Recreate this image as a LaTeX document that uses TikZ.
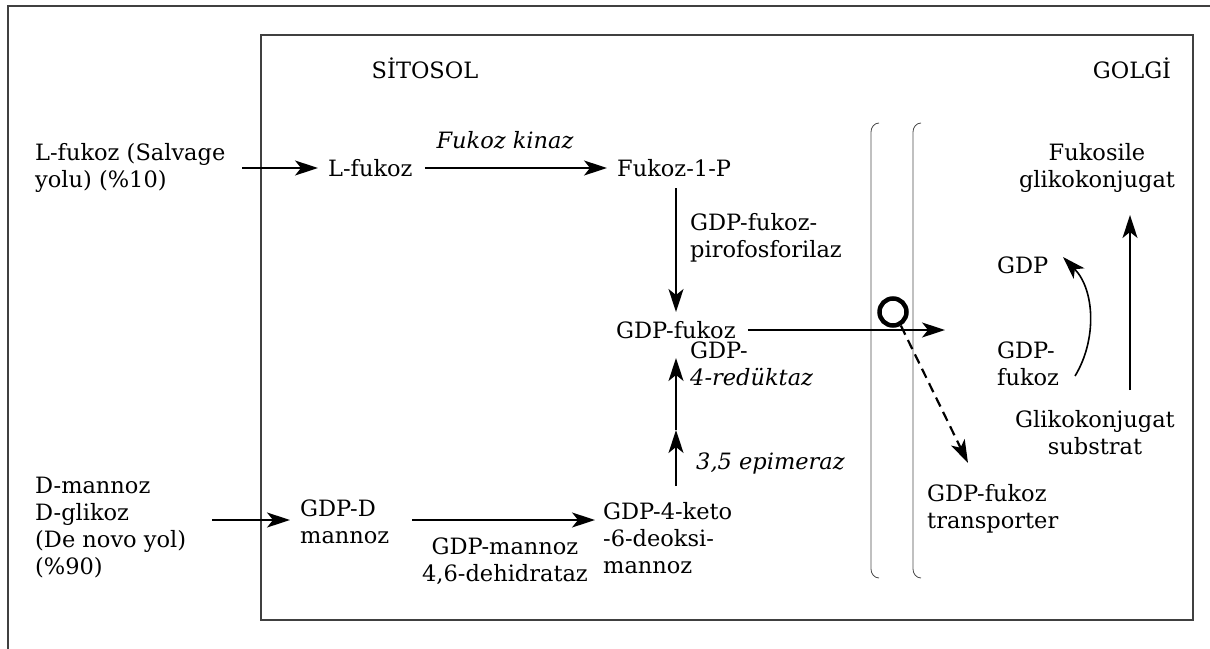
\documentclass[tikz,border=0pt]{standalone}
\usepackage{fontspec}
\setmainfont{DejaVu Serif}
\usetikzlibrary{arrows.meta}
\begin{document}
\begin{tikzpicture}[x=1pt,y=-1pt,
  txt/.style={inner sep=0pt, font=\fontsize{22.5}{27}\selectfont},
  lt/.style={txt, anchor=west, align=left},
  ct/.style={txt, align=center},
  tip/.style={-{Stealth[length=23pt,width=15pt,inset=6pt]}},
  arr/.style={line width=1.6pt, tip},
  mem/.style={line width=0.8pt, draw=black!70},
  frame/.style={line width=1.8pt, draw=black!75}]
\useasboundingbox (0,0) rectangle (1210,648);
\draw[frame] (8,6) rectangle (1230,670);
\draw[frame] (261,35) rectangle (1193,620);
% headings
\node[ct] (sit) at (425,68) {SİTOSOL};
\node[ct] (gol) at (1132,68) {GOLGİ};
% salvage
\node[lt] (salv) at (35,168) {L-fukoz (Salvage\\yolu) (\%10)};
\node[lt] (lf) at (328,168) {L-fukoz};
\node[lt] (f1p) at (617,168) {Fukoz-1-P};
\node[ct] (fk) at (505,140) {\itshape Fukoz kinaz};
\node[lt] (gf) at (616,330) {GDP-fukoz};
\node[lt] (pir) at (690,238) {GDP-fukoz-\\pirofosforilaz};
% de novo
\node[lt] (dn) at (35,528) {D-mannoz\\D-glikoz\\(De novo yol)\\(\%90)};
\node[lt] (gdm) at (300,522) {GDP-D\\mannoz};
\node[lt] (keto) at (603,538) {GDP-4-keto\\-6-deoksi-\\mannoz};
\node[ct] (deh) at (505,561) {GDP-mannoz\\4,6-dehidrataz};
\node[lt] (red) at (690,364) {GDP-\\\itshape 4-redüktaz};
\node[lt] (epi) at (696,463) {\itshape 3,5 epimeraz};
% golgi
\node[lt] (gdp) at (997,265) {GDP};
\node[lt] (gfg) at (997,364) {GDP-\\fukoz};
\node[ct] (fgk) at (1097,168) {Fukosile\\glikokonjugat};
\node[ct] (gks) at (1095,433) {Glikokonjugat\\substrat};
\node[lt] (tr) at (927,509) {GDP-fukoz\\transporter};
% membranes
\draw[mem] (879,123) to[out=180,in=90] (871,132) -- (871,569) to[out=-90,in=180] (879,578);
\draw[mem] (921,123) to[out=180,in=90] (913,132) -- (913,569) to[out=-90,in=180] (921,578);
% arrows
\coordinate (s1) at (242,168);
\draw[arr] (s1) -- ([xshift=-10pt]lf.west);
\draw[arr] ([xshift=12pt]lf.east) -- ([xshift=-10pt]f1p.west);
\draw[arr] (676,188) -- (676,312);
\coordinate (ge) at (945,330);
\draw[arr] ([xshift=12pt]gf.east) -- (ge);
\node[circle, draw, line width=4.5pt, minimum size=27pt, inner sep=0pt] (tp) at (893,312) {};
\coordinate (te) at (968,463);
\draw[arr, line width=2.2pt, dash pattern=on 10pt off 6pt] (tp.-60) -- (te);
\coordinate (d1) at (212,520);
\draw[arr] (d1) -- ([xshift=-10pt]gdm.west |- d1);
\draw[arr] (412,520) -- ([xshift=-8pt]keto.west |- d1);
\coordinate (m1) at (676,430);
\draw[arr] (676,486) -- (m1);
\draw[arr] (m1) -- (676,358);
\draw[line width=1.6pt, tip] (1075,376) .. controls (1097,340) and (1095,290) .. (1063,257);
\draw[arr] (1130,390) -- (1130,215);
\end{tikzpicture}
\end{document}
